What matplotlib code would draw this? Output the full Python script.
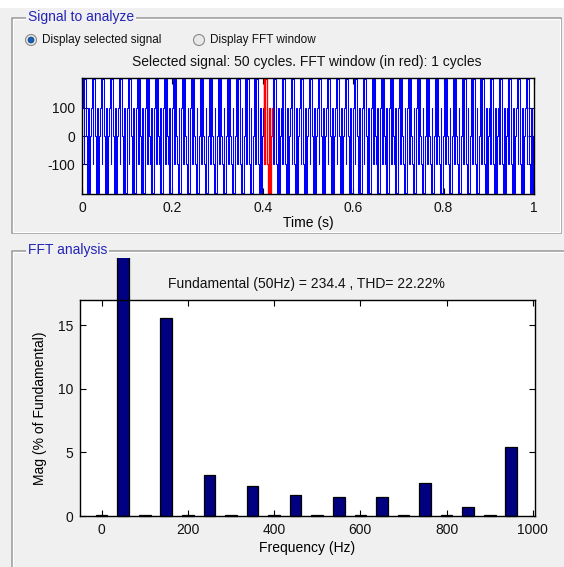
import numpy as np
import matplotlib
matplotlib.use("Agg")
import matplotlib.pyplot as plt
from matplotlib.patches import Rectangle, Ellipse
from matplotlib.transforms import Bbox, TransformedBbox

plt.rcParams['font.family'] = ['Liberation Sans', 'DejaVu Sans']
plt.rcParams['axes.unicode_minus'] = False

W, H = 564, 567

# one 50 Hz cycle of the inverter output: switching instants (ms) and levels (V)
cycle_ms = [0.0, 1.6, 3.5, 5.0, 8.5, 10.0, 11.6, 13.5, 15.0, 18.5]
cycle_lv = [100, 200, -100, 200, 0, -100, -200, 100, -200, 0]
n_cycles = 50
fft_cycle = 20  # FFT window starts at 0.40 s

# FFT result
freqs = [0, 50, 100, 150, 200, 250, 300, 350, 400, 450, 500,
         550, 600, 650, 700, 750, 800, 850, 900, 950]
mags = [0.1, 100, 0.06, 15.6, 0.1, 3.2, 0.06, 2.4, 0.1, 1.68, 0.06,
        1.52, 0.1, 1.52, 0.06, 2.58, 0.1, 0.72, 0.06, 5.45]

top_title = "Selected signal: 50 cycles. FFT window (in red): 1 cycles"
fft_title = "Fundamental (50Hz) = 234.4 , THD= 22.22%"


def fx(x):
    return x / W


def fy(y):
    return 1 - y / H


# build the time series from the cycle table
t, v = [], []
for k in range(n_cycles):
    for ms, lv in zip(cycle_ms, cycle_lv):
        t.append((k * 20 + ms) / 1000.0)
        v.append(lv)
t.append(1.0)
v.append(cycle_lv[0])
t = np.array(t)
v = np.array(v)

fig = plt.figure(figsize=(W / 100, H / 100), dpi=100, facecolor='#f0f0f0')
fig.add_artist(Rectangle((0, fy(8)), 1, 1 - fy(8), transform=fig.transFigure,
                         facecolor='white', edgecolor='none'))

# panel frames
for (x0, y0, x1, y1) in [(12, 18, 561, 233), (12, 251, 580, 600)]:
    fig.add_artist(Rectangle((fx(x0), fy(y1)), fx(x1) - fx(x0), fy(y0) - fy(y1),
                             transform=fig.transFigure, facecolor='none',
                             edgecolor='#a0a0a0', lw=1.2))
    fig.add_artist(Rectangle((fx(x0 + 1), fy(y1 - 1)), fx(x1) - fx(x0) - fx(2), fy(y0 + 1) - fy(y1 - 1),
                             transform=fig.transFigure, facecolor='none',
                             edgecolor='white', lw=0.8))

blue_txt = '#2323b8'
for label, y in [("Signal to analyze", 17), ("FFT analysis", 250)]:
    fig.text(fx(28), fy(y), label, color=blue_txt, fontsize=10, va='center', ha='left',
             bbox=dict(facecolor='#f0f0f0', edgecolor='none', pad=1.5))

# radio buttons
for cx, txt, sel in [(31, "Display selected signal", True), (199, "Display FFT window", False)]:
    fig.add_artist(Ellipse((fx(cx), fy(40)), fx(11), 11 / H, transform=fig.transFigure,
                           facecolor='#e8e8e8', edgecolor='#8a8a8a', lw=0.8))
    if sel:
        fig.add_artist(Ellipse((fx(cx), fy(40)), fx(6), 6 / H, transform=fig.transFigure,
                               facecolor='#1a5fb4', edgecolor='#0b3d80', lw=0.5))
    fig.text(fx(cx + 11), fy(40), txt, fontsize=8.5, va='center', ha='left', color='#111111')

# signal axes
ax1 = fig.add_axes([fx(82), fy(194), fx(534) - fx(82), fy(78) - fy(194)])
ax1.step(t, v, where='post', color='#0000ff', lw=0.75)
sel = (t >= fft_cycle * 0.02) & (t <= (fft_cycle + 1) * 0.02)
ax1.step(t[sel], v[sel], where='post', color='#ff0000', lw=0.9)
ax1.set_xlim(0, 1)
ax1.set_ylim(-204, 204)
ax1.set_xticks([0, 0.2, 0.4, 0.6, 0.8, 1])
ax1.set_xticklabels(['0', '0.2', '0.4', '0.6', '0.8', '1'])
ax1.set_yticks([-100, 0, 100])
ax1.set_xlabel("Time (s)", fontsize=10, labelpad=1)
fig.text(fx(307), fy(62), top_title, fontsize=10, ha='center', va='center', color='#111111')

# FFT axes
ax2 = fig.add_axes([fx(80), fy(516), fx(535) - fx(80), fy(300) - fy(516)])
bars = ax2.bar(freqs, mags, width=27, color='#000080', edgecolor='black', linewidth=0.9)
clip = TransformedBbox(Bbox([[0, 0], [1, fy(258)]]), fig.transFigure)
for b in bars:
    b.set_clip_box(clip)
ax2.set_xlim(-50, 1005)
ax2.set_ylim(0, 17)
ax2.set_xticks([0, 200, 400, 600, 800, 1000])
ax2.set_yticks([0, 5, 10, 15])
ax2.set_xlabel("Frequency (Hz)", fontsize=10, labelpad=3)
ax2.set_ylabel("Mag (% of Fundamental)", fontsize=10, labelpad=8)
fig.text(fx(306), fy(284), fft_title, fontsize=10, ha='center', va='center', color='#111111')

for ax in (ax1, ax2):
    ax.set_facecolor('white')
    ax.tick_params(direction='in', length=4, width=0.8, top=True, right=True,
                   labelsize=10, pad=5, colors='black', labelcolor='#111111')
    for s in ax.spines.values():
        s.set_linewidth(1.0)
        s.set_color('black')

fig.savefig("out.png", dpi=100, facecolor=fig.get_facecolor())
